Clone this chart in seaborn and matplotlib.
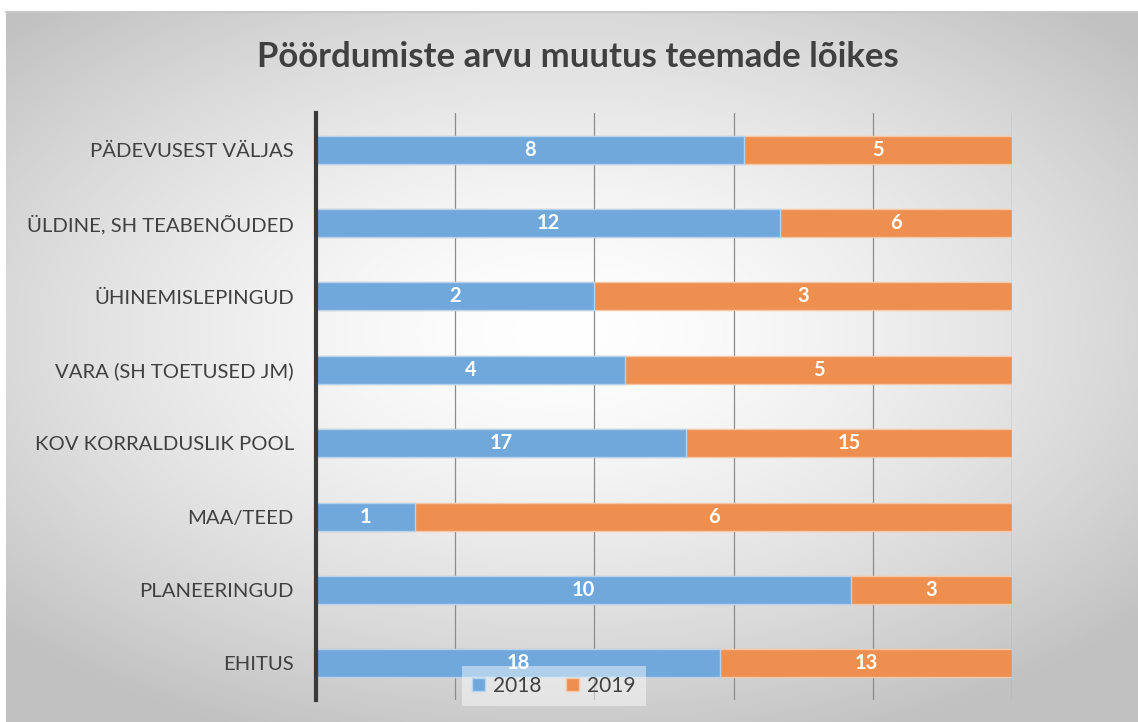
import numpy as np
import pandas as pd
import matplotlib
matplotlib.use("Agg")
import matplotlib.pyplot as plt
import seaborn as sns
from matplotlib.patches import Patch

categories = ["PÄDEVUSEST VÄLJAS", "ÜLDINE, SH TEABENÕUDED", "ÜHINEMISLEPINGUD",
              "VARA (SH TOETUSED JM)", "KOV KORRALDUSLIK POOL", "MAA/TEED",
              "PLANEERINGUD", "EHITUS"]
v2018 = [8, 12, 2, 4, 17, 1, 10, 18]
v2019 = [5, 6, 3, 5, 15, 6, 3, 13]

blue = "#70a8dc"
orange = "#ee8f4f"
txt = "#404040"

sns.set_theme(style="white")
plt.rcParams["font.family"] = ["Lato", "DejaVu Sans"]

df = pd.DataFrame({"cat": categories, "a": v2018, "b": v2019})
df["tot"] = df["a"] + df["b"]
df["sa"] = df["a"] / df["tot"]
df["full"] = (df["a"] + df["b"]) / df["tot"]

fig = plt.figure(figsize=(11.38, 7.22), dpi=100)

# radial gradient background
bg = fig.add_axes([6 / 1138, 0, 1 - 6 / 1138, 1 - 12 / 722])
yy, xx = np.mgrid[-1:1:300j, -1:1:400j]
r = np.sqrt((xx + 0.02) ** 2 + ((yy + 0.1) * 1.1) ** 2)
shade = 1.0 - 0.24 * np.clip(r / 1.35, 0, 1) ** 1.5
bg.imshow(np.dstack([shade] * 3), aspect="auto", extent=[0, 1, 0, 1])
bg.set_axis_off()
fig.add_artist(plt.Line2D([6 / 1138, 1], [1 - 12 / 722] * 2, color="#c8c8c8", lw=1.5))

ax = fig.add_axes([316 / 1138, 1 - 700 / 722, 696 / 1138, (700 - 113) / 722])
ax.set_facecolor("none")

sns.barplot(data=df, x="full", y="cat", color=orange, width=0.38, orient="h",
            edgecolor="#f6c7a6", linewidth=1, saturation=1, ax=ax, zorder=2)
sns.barplot(data=df, x="sa", y="cat", color=blue, width=0.38, orient="h",
            edgecolor="#b5d2ee", linewidth=1, saturation=1, ax=ax, zorder=3)

for i, row in df.iterrows():
    ax.text(row["sa"] / 2, i, str(row["a"]), ha="center", va="center",
            color="white", fontsize=14.5, fontweight="bold", zorder=4)
    ax.text(row["sa"] + (row["full"] - row["sa"]) / 2, i, str(row["b"]),
            ha="center", va="center", color="white", fontsize=14.5,
            fontweight="bold", zorder=4)

ax.set_xlim(0, 1)
ax.set_ylim(len(categories) - 0.5, -0.5)
ax.set_xticks(np.arange(0, 1.01, 0.2))
ax.set_xticklabels([])
ax.tick_params(axis="x", length=0)
ax.tick_params(axis="y", length=0, pad=16, labelsize=14.6, labelcolor=txt)
ax.grid(axis="x", color="#8c8c8c", lw=0.9, zorder=0)
ax.set_axisbelow(True)
ax.set_xlabel("")
ax.set_ylabel("")
for s in ["top", "right", "bottom"]:
    ax.spines[s].set_visible(False)
ax.spines["left"].set_color("#3a3a3a")
ax.spines["left"].set_linewidth(3)
ax.spines["left"].set_zorder(5)

handles = [Patch(facecolor=blue, edgecolor="#b5d2ee", label="2018"),
           Patch(facecolor=orange, edgecolor="#f6c7a6", label="2019")]
leg = fig.legend(handles=handles, loc="center", bbox_to_anchor=(554 / 1138, 1 - 686 / 722),
                 ncol=2, frameon=True, fontsize=15, handlelength=0.6, handleheight=0.6,
                 handletextpad=0.4, columnspacing=1.2, borderpad=0.3)
leg.get_frame().set_facecolor("white")
leg.get_frame().set_alpha(0.45)
leg.get_frame().set_edgecolor("none")
leg.get_frame().set_boxstyle("square", pad=0.2)
for t in leg.get_texts():
    t.set_color(txt)

fig.text(578 / 1138, 1 - 57 / 722, "Pöördumiste arvu muutus teemade lõikes",
         ha="center", va="center", fontsize=25, fontweight="bold", color=txt)

fig.savefig("out.png", dpi=100)
